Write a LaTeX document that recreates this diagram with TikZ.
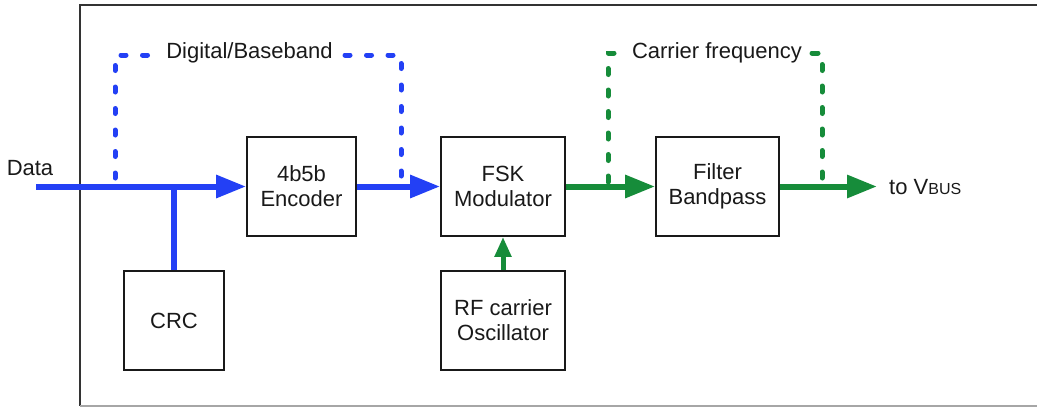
\documentclass[tikz,border=0pt]{standalone}
\usepackage{fontspec}
\setmainfont{Liberation Sans}
\usetikzlibrary{arrows.meta}
\definecolor{bblue}{RGB}{35,64,245}
\definecolor{bgreen}{RGB}{22,140,58}
\definecolor{txt}{RGB}{25,25,25}
\begin{document}
\begin{tikzpicture}[x=1pt,y=-1pt,
  box/.style={draw=txt,line width=1.8pt,inner sep=0pt,align=center,text=txt,
    font=\fontsize{22}{25}\selectfont},
  lbl/.style={inner sep=0pt,text=txt,font=\fontsize{22}{25}\selectfont},
  bthick/.style={draw=bblue,line width=6pt},
  gthick/.style={draw=bgreen,line width=6pt},
  bigtip/.style={-{Triangle[length=30pt,width=22pt]}},
  bdot/.style={draw=bblue,line width=5pt,line cap=round,dash pattern=on 5pt off 16.5pt},
  gdot/.style={draw=bgreen,line width=5pt,line cap=round,dash pattern=on 6pt off 15.5pt}]
\useasboundingbox (0,0) rectangle (1037,408);
% frame
\draw[draw=black!80,line width=2pt] (1045,5) -- (80,5) -- (80,406);
\draw[draw=black!35,line width=2pt] (80,406) -- (1045,406);
% boxes
\node[box,minimum width=109pt,minimum height=99pt] (enc) at (301.5,186.5) {4b5b\\Encoder};
\node[box,minimum width=124pt,minimum height=99pt] (fsk) at (503,186.5) {FSK\\Modulator};
\node[box,minimum width=123pt,minimum height=99pt] (filt) at (717.5,186.5) {Filter\\Bandpass};
\node[box,minimum width=100pt,minimum height=99pt] (crc) at (174,320.5) {CRC};
\node[box,minimum width=124pt,minimum height=99pt] (rf) at (503,320.5) {RF carrier\\Oscillator};
% labels
\node[lbl] (data) at (30,168) {Data};
\node[lbl,anchor=west] (vbus) at (889,187) {to V{\fontsize{16}{16}\selectfont BUS}};
\node[lbl] (digi) at (249.5,53) {Digital/Baseband};
\node[lbl] (carr) at (717,53) {Carrier frequency};
% coordinates
\coordinate (din) at (36,186.5);
\coordinate (branch) at (174,186.5);
\coordinate (vout) at (877,186.5);
\coordinate (b1) at (115,178);
\coordinate (b2) at (115,55);
\coordinate (b3) at (157,55);
\coordinate (b4) at (345,55);
\coordinate (b5) at (401,55);
\coordinate (b6) at (401,184);
\coordinate (g1) at (608,182);
\coordinate (g2) at (608,53);
\coordinate (g3) at (614,53);
\coordinate (g4) at (812,53);
\coordinate (g5) at (822,53);
\coordinate (g6) at (822,184);
% dotted
\draw[bdot] (b1) -- (b2) -- (b3);
\draw[bdot] (b4) -- (b5) -- (b6);
\draw[gdot] (g1) -- (g2) -- (g3);
\draw[gdot] (g4) -- (g5) -- (g6);
% connectors
\draw[bthick,bigtip] (din) -- (enc.west);
\draw[bthick] (branch) -- (crc.north);
\draw[bthick,bigtip] (enc.east) -- (fsk.west);
\draw[gthick,bigtip] (fsk.east) -- (filt.west);
\draw[gthick,bigtip] (filt.east) -- (vout);
\draw[draw=bgreen,line width=5pt,-{Triangle[length=20pt,width=16pt]}] (rf.north) -- (fsk.south);
\end{tikzpicture}
\end{document}
